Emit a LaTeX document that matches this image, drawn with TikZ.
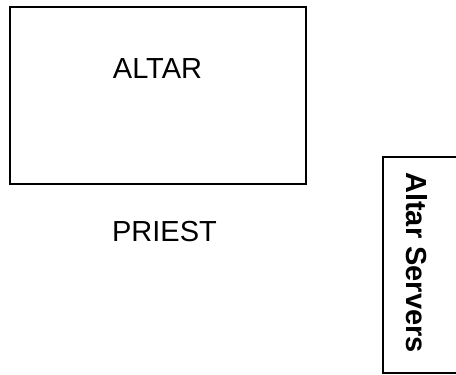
\documentclass[tikz,border=0pt]{standalone}
\usepackage{fontspec}
\setmainfont{Liberation Sans}
\begin{document}
\begin{tikzpicture}[x=1pt,y=-1pt,
  box/.style={draw=black,line width=1.5pt,rectangle,inner sep=0pt},
  lbl/.style={font=\fontsize{29}{34}\selectfont,inner sep=0pt,anchor=base},
  blbl/.style={font=\fontsize{29}{34}\selectfont\bfseries,inner sep=0pt,anchor=base,rotate=-90}]
\clip (0,0) rectangle (456,375);
\useasboundingbox (0,0) rectangle (456,375);
\node[box,minimum width=296pt,minimum height=177pt] (altar) at (158,95.5) {};
\node[lbl] (altartext) at (157.5,78) {ALTAR};
\node[lbl] (priest) at (164.5,241) {PRIEST};
\node[box,minimum width=80pt,minimum height=216pt] (servers) at (423,265) {};
\node[blbl] (serverstext) at (406.7,262.5) {Altar Servers};
\end{tikzpicture}
\end{document}
